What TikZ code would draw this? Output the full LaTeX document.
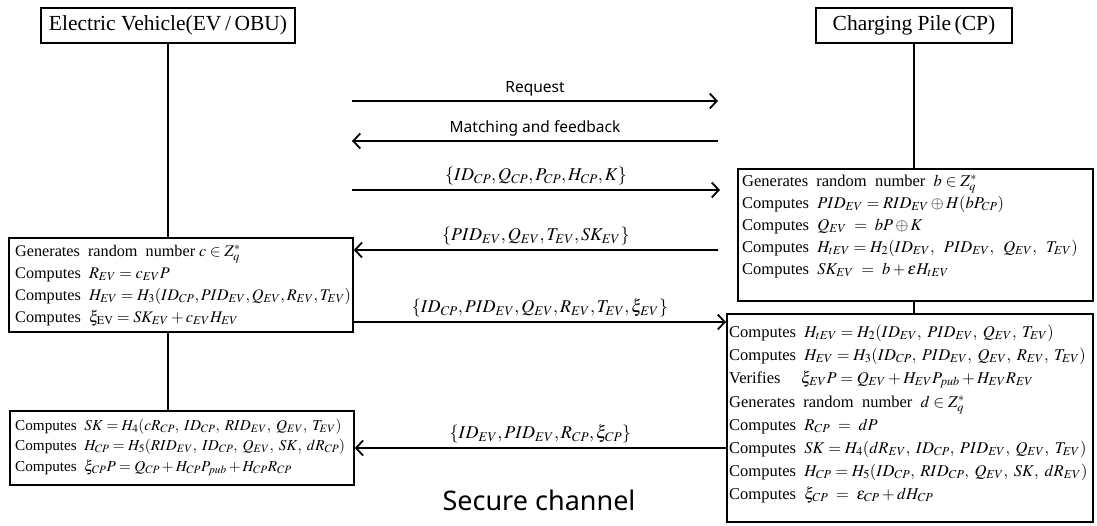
\documentclass[tikz,border=0pt]{standalone}
\usepackage{mathptmx}
\usepackage[no-math]{fontspec}
\setmainfont{Liberation Serif}
\newfontfamily\labelsans{Noto Sans}
\usetikzlibrary{arrows.meta}

\begin{document}
\begin{tikzpicture}[x=1pt,y=-1pt,
  party/.style={draw, line width=1.8pt, minimum height=35pt, inner sep=0pt,
    font=\fontsize{21.5}{25}\selectfont},
  panel/.style={draw, line width=1.8pt, inner sep=0pt, anchor=north west},
  calc/.style={anchor=base west, inner sep=0pt},
  life/.style={line width=1.8pt},
  msg/.style={line width=1.8pt, -{Straight Barb[length=7pt,width=15pt]}},
  lbl/.style={above, inner sep=4pt, font=\fontsize{18}{20}\selectfont},
  slbl/.style={above, inner sep=4pt, font=\labelsans\fontsize{15.5}{19}\selectfont}
]
\useasboundingbox (0,0) rectangle (1097,525);

% the two parties
\node[party, minimum width=254pt] (ev) at (168,25.5) {Electric Vehicle(EV\,/\,OBU)};
\node[party, minimum width=196pt] (cp) at (914,25.5) {Charging Pile\,(CP)};

% computation panels
\node[panel, minimum width=344pt, minimum height=94pt]  (evA) at (8,237) {};
\node[panel, minimum width=344pt, minimum height=74pt]  (evB) at (9,410) {};
\node[panel, minimum width=355pt, minimum height=132pt] (cpA) at (737,168) {};
\node[panel, minimum width=366pt, minimum height=208pt] (cpB) at (726,313) {};

% lifelines
\draw[life] (ev.south) -- (ev.south |- evA.north);
\draw[life] (ev.south |- evA.south) -- (ev.south |- evB.north);
\draw[life] (cp.south) -- (cp.south |- cpA.north);
\draw[life] (cp.south |- cpA.south) -- (cp.south |- cpB.north);

% panel contents
\node[calc] (evAtxt) at (15,256) {\parbox[t]{340pt}{\fontsize{16.2}{22}\selectfont
Generates\ \ random\ \ number $c\in Z_q^{*}$\\
Computes\ \ $R_{EV}=c_{EV}P$\\
Computes\ \ $H_{EV}=H_3(ID_{CP},PID_{EV},Q_{EV},R_{EV},T_{EV})$\\
Computes\ \ $\xi_{\mathrm{EV}}=SK_{EV}+c_{EV}H_{EV}$}};

\node[calc] (evBtxt) at (15,430) {\parbox[t]{340pt}{\fontsize{15.2}{20.5}\selectfont
Computes\ \ $SK=H_4(cR_{CP},\;ID_{CP},\;RID_{EV},\;Q_{EV},\;T_{EV})$\\
Computes\ \ $H_{CP}=H_5(RID_{EV},\;ID_{CP},\;Q_{EV},\;SK,\;dR_{CP})$\\
Computes\ \ $\xi_{CP}P=Q_{CP}+H_{CP}P_{pub}+H_{CP}R_{CP}$}};

\node[calc] (cpAtxt) at (742,186) {\parbox[t]{350pt}{\fontsize{16.5}{22}\selectfont
Generates\ \ random\ \ number\ \ $b\in Z_q^{*}$\\
Computes\ \ $PID_{EV}=RID_{EV}\oplus H(bP_{CP})$\\
Computes\ \ $Q_{EV}\ =\ bP\oplus K$\\
Computes\ \ $H_{tEV}=H_2(ID_{EV},\;\;PID_{EV},\;\;Q_{EV},\;\;T_{EV})$\\
Computes\ \ $SK_{EV}\ =\ b+\varepsilon H_{tEV}$}};

\node[calc] (cpBtxt) at (729,337) {\parbox[t]{360pt}{\fontsize{16.5}{23}\selectfont
Computes\ \ $H_{tEV}=H_2(ID_{EV},\;PID_{EV},\;Q_{EV},\;T_{EV})$\\
Computes\ \ $H_{EV}=H_3(ID_{CP},\;PID_{EV},\;Q_{EV},\;R_{EV},\;T_{EV})$\\
Verifies\quad\ $\xi_{EV}P=Q_{EV}+H_{EV}P_{pub}+H_{EV}R_{EV}$\\[1pt]
Generates\ \ random\ \ number\ \ $d\in Z_q^{*}$\\
Computes\ \ $R_{CP}\ =\ dP$\\
Computes\ \ $SK=H_4(dR_{EV},\;ID_{CP},\;PID_{EV},\;Q_{EV},\;T_{EV})$\\
Computes\ \ $H_{CP}=H_5(ID_{CP},\;RID_{CP},\;Q_{EV},\;SK,\ dR_{EV})$\\
Computes\ \ $\xi_{CP}\ =\ \varepsilon_{CP}+dH_{CP}$}};

% free message ends
\coordinate (reqL) at (352,101);  \coordinate (reqR) at (718,101);
\coordinate (fbL)  at (352,141);  \coordinate (fbR)  at (718,141);
\coordinate (m3L)  at (352,190);  \coordinate (m3R)  at (720,190);
\coordinate (m4R)  at (718,250);

% messages
\draw[msg] (reqL) -- node[slbl] (reqtxt) {Request} (reqR);
\draw[msg] (fbR) -- node[slbl] (fbtxt) {Matching and feedback} (fbL);
\draw[msg] (m3L) -- node[lbl] (m3txt) {$\{ID_{CP},Q_{CP},P_{CP},H_{CP},K\}$} (m3R);
\draw[msg] (m4R) -- node[lbl] (m4txt) {$\{PID_{EV},Q_{EV},T_{EV},SK_{EV}\}$} (evA.east |- m4R);
\draw[msg] (evA.east |- 0,322) -- node[lbl] (m5txt) {$\{ID_{CP},PID_{EV},Q_{EV},R_{EV},T_{EV},\xi_{EV}\}$} (cpB.west |- 0,322);
\draw[msg] (cpB.west |- 0,448) -- node[lbl] (m6txt) {$\{ID_{EV},PID_{EV},R_{CP},\xi_{CP}\}$} (evB.east |- 0,448);

\node[font=\labelsans\fontsize{27}{32}\selectfont] (secure) at (539,500) {Secure channel};
\end{tikzpicture}
\end{document}
